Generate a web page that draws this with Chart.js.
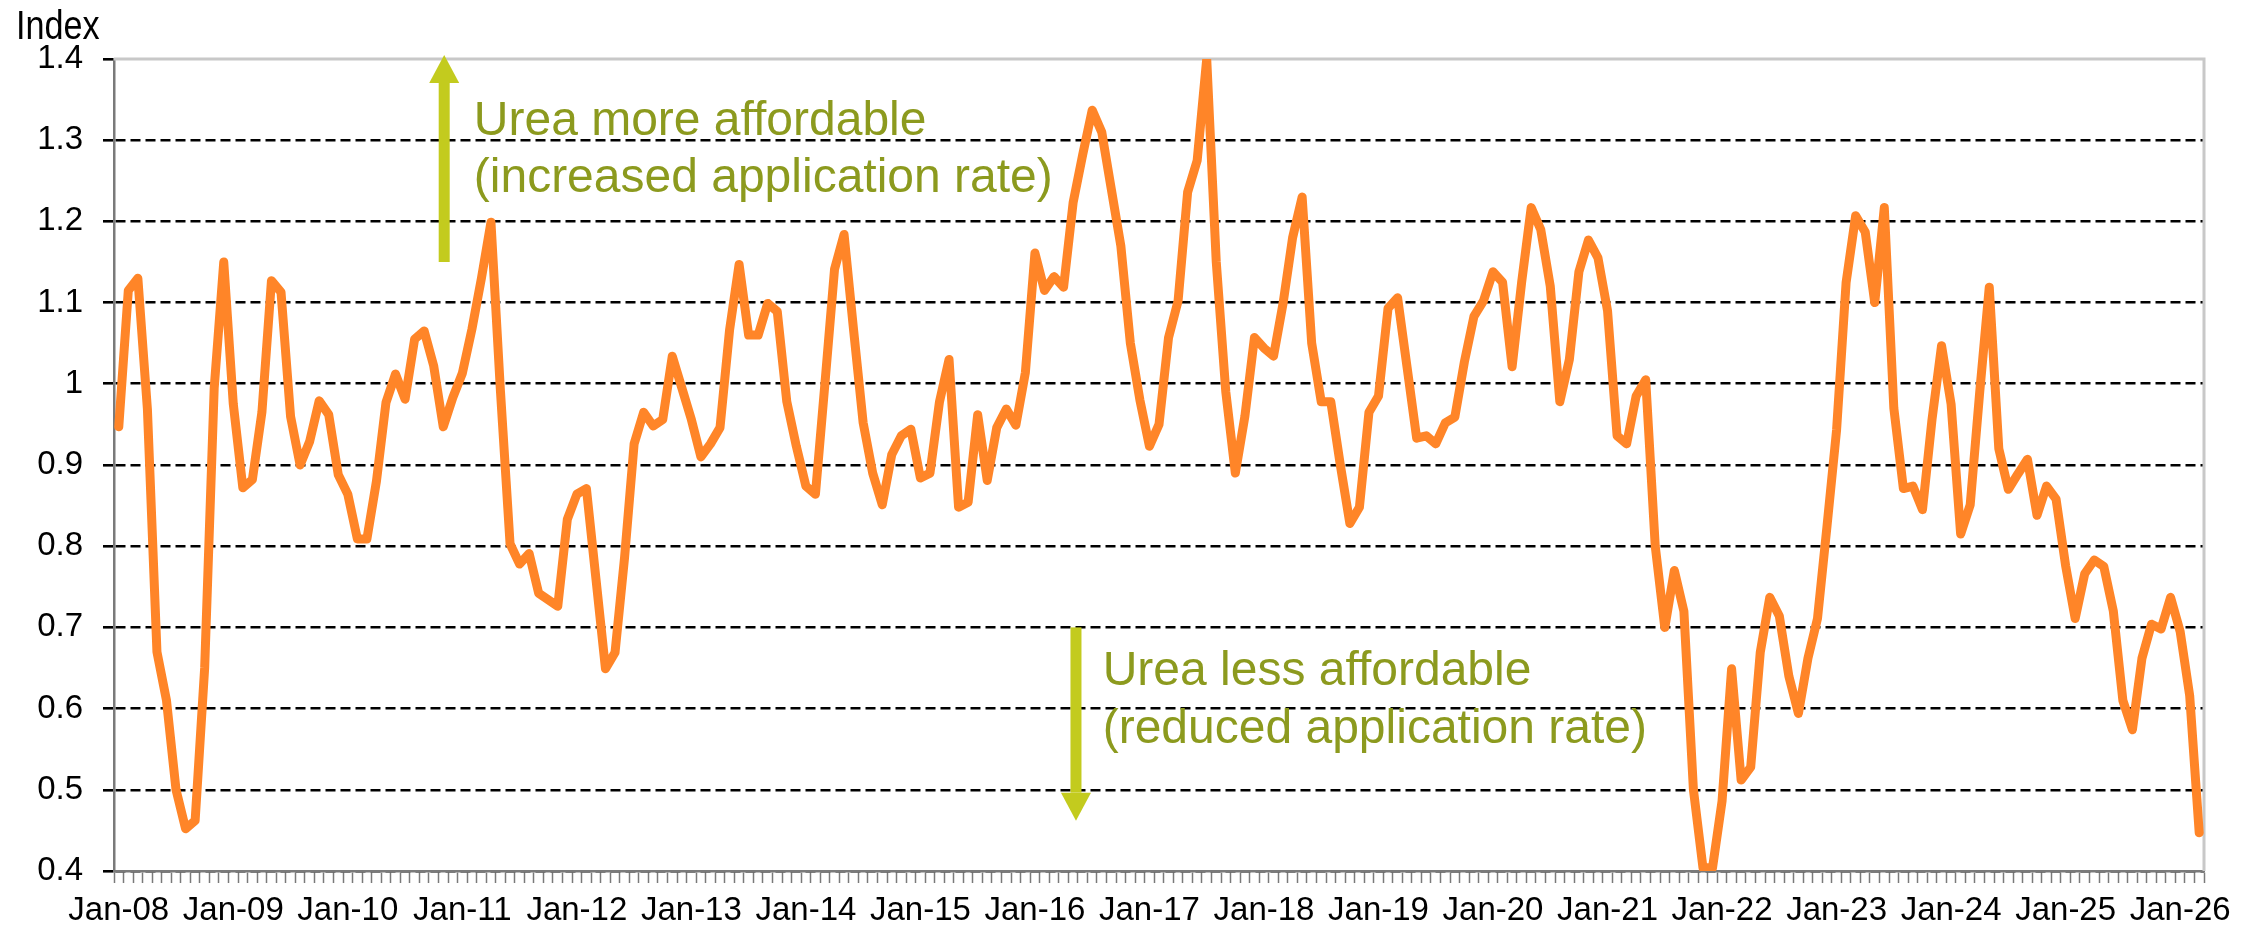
<!DOCTYPE html>
<html>
<head>
<meta charset="utf-8">
<script src="https://cdn.jsdelivr.net/npm/chart.js@4/dist/chart.umd.min.js"></script>
<style>
  html, body { margin: 0; padding: 0; background: #fff; }
  #wrap { width: 2264px; height: 929px; position: relative; }
</style>
</head>
<body>
<div id="wrap"><canvas id="chart"></canvas></div>
<script>
//  DATA
// urea affordability index, monthly from Jan-08
var startYear = 2008;
var monthNames = ["Jan", "Feb", "Mar", "Apr", "May", "Jun", "Jul", "Aug", "Sep", "Oct", "Nov", "Dec"];

var tickLabels = ["Jan-08", "Jan-09", "Jan-10", "Jan-11", "Jan-12", "Jan-13", "Jan-14", "Jan-15", "Jan-16",
  "Jan-17", "Jan-18", "Jan-19", "Jan-20", "Jan-21", "Jan-22", "Jan-23", "Jan-24", "Jan-25", "Jan-26"];

var yTicks = [0.4, 0.5, 0.6, 0.7, 0.8, 0.9, 1, 1.1, 1.2, 1.3, 1.4];

var indexValues = [
  0.947, 1.115, 1.13, 0.969, 0.67, 0.61, 0.50, 0.452, 0.462, 0.65, 0.995, 1.15,     // 2008
  0.975, 0.872, 0.882, 0.965, 1.127, 1.113, 0.96, 0.90, 0.929, 0.979, 0.962, 0.888, // 2009
  0.864, 0.809, 0.809, 0.88, 0.977, 1.012, 0.981, 1.055, 1.065, 1.022, 0.947, 0.983, // 2010
  1.013, 1.067, 1.13, 1.199, 0.99, 0.803, 0.778, 0.791, 0.742, 0.734, 0.726, 0.833, // 2011
  0.864, 0.871, 0.76, 0.649, 0.669, 0.786, 0.926, 0.965, 0.948, 0.956, 1.034, 0.995, // 2012
  0.956, 0.91, 0.926, 0.946, 1.066, 1.147, 1.06, 1.06, 1.099, 1.089, 0.978, 0.923,  // 2013
  0.874, 0.864, 1.001, 1.141, 1.184, 1.066, 0.952, 0.89, 0.851, 0.913, 0.936, 0.944, // 2014
  0.884, 0.89, 0.978, 1.03, 0.848, 0.854, 0.962, 0.881, 0.946, 0.969, 0.949, 1.014, // 2015
  1.161, 1.115, 1.132, 1.119, 1.223, 1.282, 1.337, 1.31, 1.24, 1.17, 1.05, 0.98,    // 2016
  0.923, 0.95, 1.057, 1.102, 1.236, 1.275, 1.40, 1.15, 0.99, 0.89, 0.96, 1.057,     // 2017
  1.044, 1.034, 1.099, 1.18, 1.23, 1.05, 0.978, 0.978, 0.90, 0.828, 0.848, 0.965,   // 2018
  0.985, 1.093, 1.106, 1.02, 0.933, 0.936, 0.926, 0.952, 0.959, 1.027, 1.083, 1.102, // 2019
  1.138, 1.125, 1.021, 1.125, 1.217, 1.19, 1.12, 0.978, 1.03, 1.138, 1.177, 1.155,  // 2020
  1.09, 0.936, 0.926, 0.985, 1.005, 0.80, 0.70, 0.77, 0.72, 0.50, 0.404, 0.404,     // 2021
  0.486, 0.649, 0.512, 0.528, 0.669, 0.737, 0.714, 0.64, 0.594, 0.662, 0.711, 0.825, // 2022
  0.943, 1.125, 1.207, 1.187, 1.10, 1.217, 0.97, 0.871, 0.874, 0.845, 0.956, 1.047, // 2023
  0.975, 0.815, 0.851, 0.99, 1.119, 0.92, 0.87, 0.889, 0.907, 0.838, 0.874, 0.858,  // 2024
  0.776, 0.711, 0.766, 0.783, 0.775, 0.72, 0.61, 0.574, 0.662, 0.704, 0.698, 0.737, // 2025
  0.695, 0.616, 0.447                                                               // 2026
];

// month categories
var categories = [];
for (var i = 0; i < indexValues.length; i++) {
  var yy = startYear + Math.floor(i / 12);
  categories.push(monthNames[i % 12] + "-" + String(yy).slice(2));
}

//  NOTES (in data units: x = month index, y = index value)
var upNote = { x: 34.1, from: 1.15, to: 1.405, textX: 37.2, textY: [1.307, 1.236],
  lines: ["Urea more affordable", "(increased application rate)"] };
var downNote = { x: 100.3, from: 0.70, to: 0.462, textX: 103.1, textY: [0.629, 0.558],
  lines: ["Urea less affordable", "(reduced application rate)"] };

var FONT = "'Liberation Sans', Arial, Helvetica, sans-serif";
var ORANGE = "#ff8528";
var ARROW = "#c3cb1e";
var NOTE_TEXT = "#8c9a1e";

function drawArrow(ctx, x, y0, y1) {
  var dir = y1 < y0 ? -1 : 1;
  var headH = 28, headW = 30, shaftW = 11;
  var yHeadBase = y1 - dir * headH;
  ctx.fillStyle = ARROW;
  ctx.fillRect(x - shaftW / 2, Math.min(y0, yHeadBase), shaftW, Math.abs(yHeadBase - y0));
  ctx.beginPath();
  ctx.moveTo(x - headW / 2, yHeadBase);
  ctx.lineTo(x + headW / 2, yHeadBase);
  ctx.lineTo(x, y1);
  ctx.closePath();
  ctx.fill();
}

function drawNote(chart, note) {
  var ctx = chart.ctx;
  var xs = chart.scales.x, ys = chart.scales.y;
  drawArrow(ctx, xs.getPixelForValue(note.x), ys.getPixelForValue(note.from), ys.getPixelForValue(note.to));
  ctx.fillStyle = NOTE_TEXT;
  ctx.font = "48px " + FONT;
  ctx.textAlign = "left";
  ctx.textBaseline = "alphabetic";
  for (var k = 0; k < note.lines.length; k++) {
    ctx.fillText(note.lines[k], xs.getPixelForValue(note.textX), ys.getPixelForValue(note.textY[k]));
  }
}

var notesPlugin = {
  id: "notes",
  beforeDatasetsDraw: function (chart) {
    var ctx = chart.ctx;
    var a = chart.chartArea;
    ctx.save();
    // plot frame, top and right
    ctx.strokeStyle = "#c8c8c8";
    ctx.lineWidth = 3;
    ctx.beginPath();
    ctx.moveTo(a.left, a.top);
    ctx.lineTo(a.right, a.top);
    ctx.lineTo(a.right, a.bottom);
    ctx.stroke();
    drawNote(chart, upNote);
    drawNote(chart, downNote);
    ctx.restore();
  },
  afterDraw: function (chart) {
    var ctx = chart.ctx;
    ctx.save();
    ctx.fillStyle = "#000";
    ctx.font = "36px " + FONT;
    ctx.textAlign = "left";
    ctx.textBaseline = "alphabetic";
    // title glyphs in the source are a bit taller than wide
    ctx.translate(16, 39);
    ctx.scale(0.95, 1.15);
    ctx.fillText("Index", 0, 0);
    ctx.restore();
  }
};

var whiteBg = {
  id: "whiteBg",
  beforeDraw: function (chart) {
    var ctx = chart.ctx;
    ctx.save();
    ctx.fillStyle = "#fff";
    ctx.fillRect(0, 0, chart.width, chart.height);
    ctx.restore();
  }
};

//  CHART
new Chart(document.getElementById("chart"), {
  type: "line",
  data: {
    labels: categories,
    datasets: [{
      data: indexValues,
      borderColor: ORANGE,
      borderWidth: 9,
      pointRadius: 0,
      tension: 0,
      borderJoinStyle: "round",
      borderCapStyle: "round",
      fill: false
    }]
  },
  options: {
    responsive: true,
    maintainAspectRatio: false,
    animation: false,
    events: [],
    layout: { padding: { top: 59, right: 60, left: 0, bottom: 0 } },
    plugins: { legend: { display: false }, tooltip: { enabled: false } },
    scales: {
      x: {
        type: "category",
        offset: true,
        afterFit: function (s) { s.height = 58; },
        grid: {
          offset: true,
          drawOnChartArea: false,
          drawTicks: true,
          tickLength: 12,
          tickColor: "#7a7a7a",
          tickWidth: 1.5
        },
        border: { color: "#7a7a7a", width: 2.5 },
        ticks: {
          autoSkip: false,
          maxRotation: 0,
          minRotation: 0,
          padding: 8,
          color: "#000",
          font: { family: FONT, size: 33 },
          callback: function (v, i) {
            var lab = categories[i];
            return tickLabels.indexOf(lab) >= 0 ? lab : "";
          }
        }
      },
      y: {
        min: yTicks[0],
        max: yTicks[yTicks.length - 1],
        afterFit: function (s) { s.width = 114; },
        afterBuildTicks: function (s) {
          s.ticks = yTicks.map(function (v) { return { value: v }; });
        },
        grid: {
          color: function (c) {
            if (c.tick && Math.abs(c.tick.value - 1.4) < 1e-6) return "rgba(0,0,0,0)";
            return "#000";
          },
          lineWidth: 2.6,
          tickLength: 11,
          tickColor: "#000"
        },
        border: { color: "#7a7a7a", width: 2.5, dash: [10, 5] },
        ticks: {
          padding: 20,
          color: "#000",
          font: { family: FONT, size: 33 },
          callback: function (v) { return String(Number(v.toFixed(1))); }
        }
      }
    }
  },
  plugins: [whiteBg, notesPlugin]
});
</script>
</body>
</html>
